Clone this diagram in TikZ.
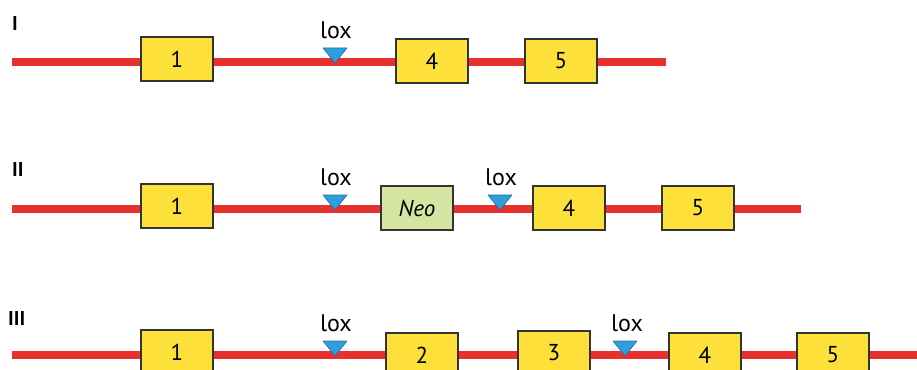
\documentclass[tikz,border=0pt]{standalone}
\usepackage{fontspec}
\setmainfont{PT Sans}
\definecolor{dnared}{HTML}{E8302C}
\definecolor{exonyel}{HTML}{FDE13A}
\definecolor{neogreen}{HTML}{D6E4A2}
\definecolor{loxblue}{HTML}{2E9EE0}
\definecolor{boxedge}{HTML}{333333}
\begin{document}
\begin{tikzpicture}[x=1pt,y=-1pt,
  dna/.style={draw=dnared,line width=8pt},
  exon/.style={draw=boxedge,line width=1.3pt,fill=exonyel,minimum width=72pt,minimum height=44pt,inner sep=0pt,font=\fontsize{23}{25}\selectfont},
  neobox/.style={exon,fill=neogreen,font=\fontsize{23}{25}\selectfont\itshape},
  rowlabel/.style={font=\fontsize{20}{22}\selectfont\bfseries,anchor=west,inner sep=0pt},
  loxtext/.style={font=\fontsize{24}{26}\selectfont,inner sep=0pt},
  loxtri/.style={fill=loxblue,draw=loxblue!70!black,line width=0.6pt,line join=round}
]
\useasboundingbox (0,0) rectangle (917,369);
% ---- Row I
\coordinate (Ia) at (12,62);
\coordinate (Ib) at (666,62);
\draw[dna] (Ia) -- (Ib);
\node[exon] (I1) at (177,59) {1};
\node[exon] (I4) at (432,61) {4};
\node[exon] (I5) at (561,61) {5};
\node[rowlabel] (Il) at (12,24) {I};
\coordinate (Ix) at (335,62);
\draw[loxtri] ([shift={(-12,-14)}]Ix) -- ([shift={(12,-14)}]Ix) -- ([shift={(0,1)}]Ix) -- cycle;
\node[loxtext] (Ilox) at (336,30) {lox};
% ---- Row II
\coordinate (IIa) at (12,209);
\coordinate (IIb) at (801,209);
\draw[dna] (IIa) -- (IIb);
\node[exon] (II1) at (177,206) {1};
\node[neobox] (IIn) at (417,208) {Neo};
\node[exon] (II4) at (569,208) {4};
\node[exon] (II5) at (698,208) {5};
\node[rowlabel] (IIl) at (12,169) {II};
\coordinate (IIx) at (335,209);
\draw[loxtri] ([shift={(-12,-14)}]IIx) -- ([shift={(12,-14)}]IIx) -- ([shift={(0,1)}]IIx) -- cycle;
\node[loxtext] (IIlox) at (336,177) {lox};
\coordinate (IIy) at (500,209);
\draw[loxtri] ([shift={(-12,-14)}]IIy) -- ([shift={(12,-14)}]IIy) -- ([shift={(0,1)}]IIy) -- cycle;
\node[loxtext] (IIlox2) at (501,177) {lox};
% ---- Row III
\coordinate (IIIa) at (12,355);
\coordinate (IIIb) at (917,355);
\draw[dna] (IIIa) -- (IIIb);
\node[exon] (III1) at (177,352) {1};
\node[exon] (III2) at (422,355) {2};
\node[exon] (III3) at (554,353) {3};
\node[exon] (III4) at (705,355) {4};
\node[exon] (III5) at (833,355) {5};
\node[rowlabel] (IIIl) at (8,318) {III};
\coordinate (IIIx) at (335,355);
\draw[loxtri] ([shift={(-12,-14)}]IIIx) -- ([shift={(12,-14)}]IIIx) -- ([shift={(0,1)}]IIIx) -- cycle;
\node[loxtext] (IIIlox) at (336,323) {lox};
\coordinate (IIIy) at (625,355);
\draw[loxtri] ([shift={(-12,-14)}]IIIy) -- ([shift={(12,-14)}]IIIy) -- ([shift={(0,1)}]IIIy) -- cycle;
\node[loxtext] (IIIlox2) at (627,323) {lox};
\end{tikzpicture}
\end{document}
